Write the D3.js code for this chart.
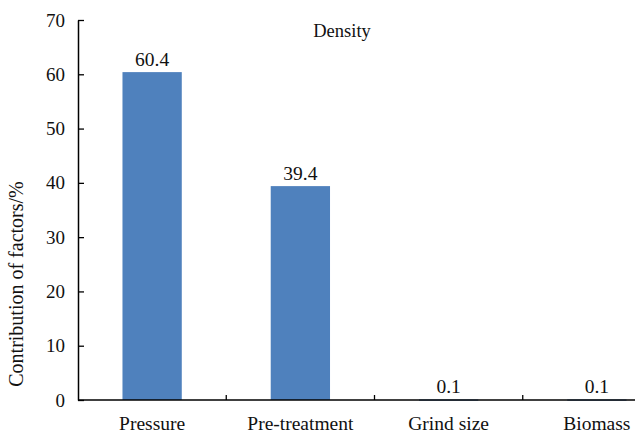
<!DOCTYPE html>
<html><head><meta charset="utf-8">
<script src="https://cdn.jsdelivr.net/npm/d3@7/dist/d3.min.js"></script>
<style>
html,body{margin:0;padding:0;background:#fff;}
</style></head>
<body><svg id="c" width="635" height="434"></svg>
<script>
const categories = ["Pressure", "Pre-treatment", "Grind size", "Biomass"];
const values = [60.4, 39.4, 0.1, 0.1];
const valueLabels = ["60.4", "39.4", "0.1", "0.1"];
const yTicks = [0, 10, 20, 30, 40, 50, 60, 70];
const title = "Density";
const yTitle = "Contribution of factors/%";

(function () {
const FONT = "'Liberation Serif', monospace";
const svg = d3.select("#c");
const mLeft = 78, mBottom = 400, mTop = 20;
const step = 148.25;
const x = d3.scaleBand().domain(categories)
  .range([mLeft, mLeft + step * categories.length])
  .paddingInner(0.6).paddingOuter(0.3);
const y = d3.scaleLinear().domain([0, 70]).range([mBottom, mTop]);

function txt(sel, size) {
  return sel.style("font-family", FONT).style("font-size", size + "px").style("fill", "#111");
}

// bars
svg.selectAll("rect.bar").data(values).enter().append("rect")
  .attr("class", "bar")
  .attr("x", (d, i) => x(categories[i]))
  .attr("width", x.bandwidth())
  .attr("y", d => y(d))
  .attr("height", d => Math.max(1.2, mBottom - y(d)))
  .attr("fill", "#4F81BD");

// value labels
txt(svg.selectAll("text.val").data(values).enter().append("text")
  .attr("class", "val")
  .attr("x", (d, i) => x(categories[i]) + x.bandwidth() / 2)
  .attr("y", d => y(d) - 6)
  .attr("text-anchor", "middle"), 19.5)
  .text((d, i) => valueLabels[i]);

// y axis
const yAxis = svg.append("g").attr("transform", `translate(${mLeft},0)`)
  .call(d3.axisLeft(y).tickValues(yTicks).tickSizeInner(-6).tickSizeOuter(0).tickPadding(13));
yAxis.attr("font-family", null).attr("font-size", null);
yAxis.select(".domain").attr("stroke", "#000").attr("stroke-width", 1.5);
yAxis.selectAll(".tick line").attr("stroke", "#000").attr("stroke-width", 1.3);
txt(yAxis.selectAll(".tick text"), 19);

// x axis line (extends off the right edge)
svg.append("line").attr("x1", mLeft).attr("x2", 635)
  .attr("y1", mBottom).attr("y2", mBottom)
  .attr("stroke", "#000").attr("stroke-width", 1.5);
// x tick marks at band boundaries
const bounds = categories.slice(1).map(c => x(c) - x.step() * x.paddingInner() / 2);
svg.selectAll("line.xt").data(bounds).enter().append("line")
  .attr("x1", d => d).attr("x2", d => d)
  .attr("y1", mBottom).attr("y2", mBottom - 5)
  .attr("stroke", "#000").attr("stroke-width", 1.3);
// category labels
txt(svg.selectAll("text.cat").data(categories).enter().append("text")
  .attr("x", d => x(d) + x.bandwidth() / 2)
  .attr("y", 430)
  .attr("text-anchor", "middle"), 19.5)
  .text(d => d);

// title
txt(svg.append("text").attr("x", 342).attr("y", 37)
  .attr("text-anchor", "middle"), 18.5)
  .text(title);

// y title
txt(svg.append("text").attr("transform", "translate(23,284) rotate(-90)")
  .attr("text-anchor", "middle"), 20)
  .text(yTitle);
})();
</script></body></html>
